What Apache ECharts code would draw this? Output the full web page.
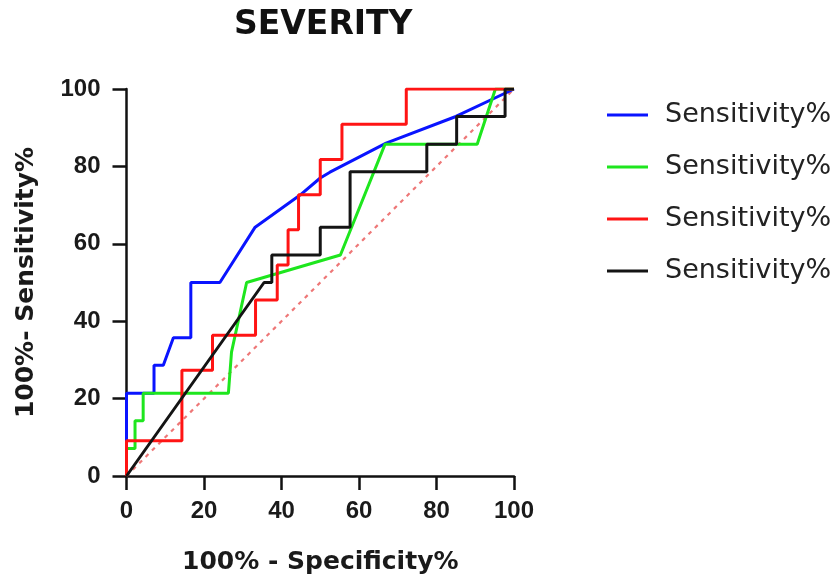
<!DOCTYPE html>
<html>
<head>
<meta charset="utf-8">
<script src="https://cdn.jsdelivr.net/npm/echarts@6/dist/echarts.min.js"></script>
<style>
  html, body { margin: 0; padding: 0; background: #fff; }
  #chart { width: 840px; height: 583px; }
</style>
</head>
<body>
<div id="chart"></div>
<script>
// ROC curves: x = 100% - Specificity%, y = Sensitivity%
const blueX  = [0, 0, 7.1, 7.1, 9.5, 12.1, 16.6, 16.6, 24.1, 33.2, 44.8, 50, 52.5, 67, 85, 100];
const blueY  = [0, 21.4, 21.4, 28.6, 28.6, 35.7, 35.7, 50, 50, 64.3, 72.6, 77, 78.5, 86, 92.9, 100];

const greenX = [0, 0, 2.2, 2.2, 4.3, 4.3, 26.3, 27.1, 31, 55.2, 66.7, 90.5, 95.2, 100];
const greenY = [0, 7.1, 7.1, 14.3, 14.3, 21.4, 21.4, 32, 50, 57.1, 85.7, 85.7, 100, 100];

const redX   = [0, 0, 14.3, 14.3, 22.2, 22.2, 33.3, 33.3, 38.9, 38.9, 41.7, 41.7, 44.4, 44.4, 50, 50, 55.6, 55.6, 72.2, 72.2, 100];
const redY   = [0, 9.1, 9.1, 27.3, 27.3, 36.4, 36.4, 45.5, 45.5, 54.5, 54.5, 63.6, 63.6, 72.7, 72.7, 81.8, 81.8, 90.9, 90.9, 100, 100];

const blackX = [0, 35.5, 37.5, 37.5, 50, 50, 57.7, 57.7, 77.5, 77.5, 85.2, 85.2, 97.7, 97.7, 100];
const blackY = [0, 50, 50, 57.1, 57.1, 64.3, 64.3, 78.6, 78.6, 85.7, 85.7, 92.9, 92.9, 100, 100];

const refX = [0, 100];
const refY = [0, 100];

const axisTicks = [0, 20, 40, 60, 80, 100];
const seriesLabel = 'Sensitivity%';
const curveColors = ['#0a14ff', '#1ee61e', '#ff1414', '#141414'];

const pairs = (xs, ys) => xs.map((x, i) => [x, ys[i]]);

const curves = [
  { key: 'c1', data: pairs(blueX, blueY) },
  { key: 'c2', data: pairs(greenX, greenY) },
  { key: 'c3', data: pairs(redX, redY) },
  { key: 'c4', data: pairs(blackX, blackY) }
];

const chart = echarts.init(document.getElementById('chart'), null, { renderer: 'canvas' });

const axisCommon = {
  type: 'value',
  min: 0,
  max: 100,
  interval: 20,
  axisLine: { show: true, lineStyle: { color: '#111', width: 2.5 } },
  axisTick: { show: true, inside: false, length: 14, lineStyle: { color: '#111', width: 2.5 } },
  splitLine: { show: false },
  axisLabel: {
    color: '#1a1a1a',
    fontFamily: 'Liberation Sans',
    fontWeight: 'bold',
    fontSize: 24,
    formatter: v => axisTicks.includes(v) ? String(v) : ''
  },
  nameTextStyle: {
    color: '#1a1a1a',
    fontFamily: 'DejaVu Sans',
    fontWeight: 'bold',
    fontSize: 25
  }
};

const option = {
  animation: false,
  backgroundColor: '#fff',
  title: {
    text: 'SEVERITY',
    left: 229,
    top: 4,
    textStyle: {
      color: '#111',
      fontFamily: 'DejaVu Sans',
      fontWeight: 'bold',
      fontSize: 33
    }
  },
  grid: { left: 126.5, right: 326, top: 89, bottom: 107, containLabel: false },
  xAxis: Object.assign({}, axisCommon, {
    name: '100% - Specificity%',
    nameLocation: 'middle',
    nameGap: 74,
    axisLabel: Object.assign({}, axisCommon.axisLabel, { margin: 23 })
  }),
  yAxis: Object.assign({}, axisCommon, {
    name: '100%- Sensitivity%',
    nameLocation: 'middle',
    nameGap: 88,
    axisLabel: Object.assign({}, axisCommon.axisLabel, { margin: 26 })
  }),
  legend: {
    orient: 'vertical',
    left: 602,
    top: 95,
    icon: 'rect',
    itemWidth: 41,
    itemHeight: 3,
    itemGap: 22,
    data: curves.map(c => c.key),
    formatter: () => seriesLabel,
    textStyle: {
      color: '#222',
      fontFamily: 'DejaVu Sans',
      fontSize: 27,
      lineHeight: 30,
      padding: [0, 0, 0, 12]
    }
  },
  series: [
    {
      type: 'line',
      name: 'reference',
      data: pairs(refX, refY),
      showSymbol: false,
      silent: true,
      lineStyle: { color: '#ee7777', width: 2.2, type: [4, 5] },
      z: 1
    }
  ].concat(curves.map((c, i) => ({
    type: 'line',
    name: c.key,
    data: c.data,
    showSymbol: false,
    lineStyle: { color: curveColors[i], width: 3 },
    itemStyle: { color: curveColors[i] },
    z: 2 + i
  })))
};

chart.setOption(option);
</script>
</body>
</html>
